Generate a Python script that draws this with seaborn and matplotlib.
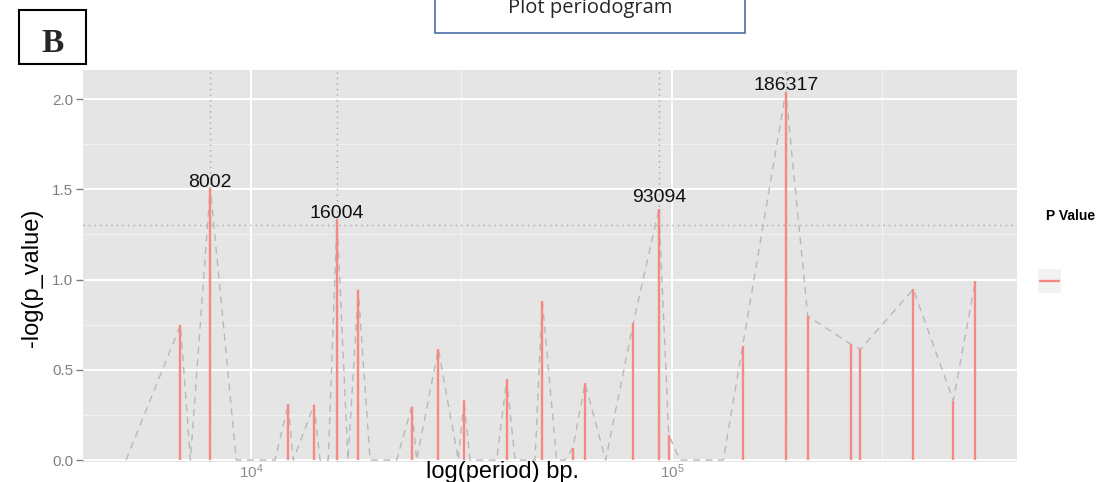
import numpy as np
import pandas as pd
import matplotlib
matplotlib.use("Agg")
import matplotlib.pyplot as plt
from matplotlib.patches import Rectangle
from matplotlib.lines import Line2D
from matplotlib.ticker import FixedLocator, NullFormatter, LogFormatterSciNotation
import seaborn as sns

# ---------------- data ----------------
period = [5050, 6800, 7180, 8002, 9230, 11400, 12260, 12600, 14110, 14590,
          15260, 16004, 17000, 17980, 19180, 22190, 24080, 24750, 27860, 31080,
          32060, 33130, 38330, 40500, 42390, 47270, 49190, 53220, 55700, 58180,
          62140, 69580, 80900, 93094, 98220, 104470, 132400, 147200, 186317, 210100,
          266200, 280200, 374300, 465800, 525400]
neglogp = [0, 0.748, 0, 1.507, 0, 0, 0.310, 0, 0.305, 0,
           0, 1.334, 0, 0.942, 0, 0, 0.296, 0, 0.615, 0,
           0.332, 0, 0, 0.447, 0, 0, 0.881, 0, 0, 0.068,
           0.425, 0, 0.757, 1.39, 0.139, 0, 0, 0.633, 2.04, 0.798,
           0.641, 0.613, 0.946, 0.329, 0.993]
peak_periods = [8002, 16004, 93094, 186317]
y_ticks = [0.0, 0.5, 1.0, 1.5, 2.0]
threshold = -np.log10(0.05)

df = pd.DataFrame({"period": period, "neglogp": neglogp})

# ---------------- style ----------------
sns.set_theme(style="darkgrid")
plt.rcParams["font.family"] = ["Liberation Sans", "DejaVu Sans"]

W, H = 1101, 482
fig = plt.figure(figsize=(W / 100, H / 100), dpi=100)
ax = fig.add_axes([83 / W, 1 - 462 / H, (1017 - 83) / W, (462 - 70) / H])
ax.set_facecolor("#E5E5E5")
for s in ax.spines.values():
    s.set_visible(False)

ax.set_xscale("log")
ax.set_xlim(3990, 659900)
ax.set_ylim(-0.011, 2.161)

ax.xaxis.set_major_locator(FixedLocator([1e4, 1e5]))
ax.xaxis.set_major_formatter(LogFormatterSciNotation())
ax.xaxis.set_minor_locator(FixedLocator([10 ** 4.5, 10 ** 5.5]))
ax.xaxis.set_minor_formatter(NullFormatter())
ax.yaxis.set_major_locator(FixedLocator(y_ticks))
ax.yaxis.set_minor_locator(FixedLocator([0.25, 0.75, 1.25, 1.75]))
ax.set_yticklabels([f"{v:.1f}" for v in y_ticks])

ax.grid(which="major", color="white", lw=1.4)
ax.grid(which="minor", color="#F2F2F2", lw=0.7)
ax.set_axisbelow(True)

ax.tick_params(axis="y", which="major", length=5, width=1, color="#7F7F7F",
               labelcolor="#7F7F7F", labelsize=11, pad=2, left=True)
ax.tick_params(axis="y", which="minor", length=0)
ax.tick_params(axis="x", which="both", length=0, labelcolor="#8C8C8C",
               labelsize=11, pad=0)

# reference lines
ax.axhline(threshold, color="#A6A6A6", lw=1.0, ls=(0, (1, 3)), zorder=1)
for p in peak_periods:
    ax.axvline(p, color="#A6A6A6", lw=1.0, ls=(0, (1, 3)), zorder=1)

# dashed connecting line
sns.lineplot(data=df, x="period", y="neglogp", ax=ax, estimator=None, sort=True,
             color="#B8B8B8", lw=1.0, zorder=2)
ax.lines[-1].set_dashes((5, 4))

# bars (stems)
ax.vlines(df["period"], 0, df["neglogp"], color="#F48A83", lw=1.7, zorder=3)

# peak labels
label_offsets = [1, 1, 5, 1]
for p, off in zip(peak_periods, label_offsets):
    v = df.loc[df["period"] == p, "neglogp"].iloc[0]
    ax.annotate(f"{p}", (p, v), xytext=(0, off), textcoords="offset points",
                ha="center", va="baseline", fontsize=14, color="#111111", zorder=4)

ax.set_xlabel("")
ax.set_ylabel("")

# axis titles
fig.text(503 / W, 1 - 461 / H, "log(period) bp.", ha="center", va="top",
         fontsize=17, color="black")
fig.text(32 / W, 1 - 278 / H, "-log(p_value)", ha="center", va="center",
         rotation=90, fontsize=17, color="black")

# legend (manual)
fig.text(1046 / W, 1 - 216 / H, "P Value", ha="left", va="center",
         fontsize=10, fontweight="bold", color="black")
fig.patches.append(Rectangle((1038 / W, 1 - 293 / H), 23 / W, 24 / H,
                             transform=fig.transFigure, facecolor="#F2F2F2",
                             edgecolor="none"))
fig.lines.append(Line2D([1040 / W, 1059 / W], [1 - 281 / H, 1 - 281 / H],
                        transform=fig.transFigure, color="#F48A83", lw=1.7))

# panel letter box
fig.patches.append(Rectangle((19 / W, 1 - 64 / H), 67 / W, 54 / H,
                             transform=fig.transFigure, facecolor="white",
                             edgecolor="black", lw=1.5))
fig.text(52.5 / W, 1 - 52 / H, "B", ha="center", va="baseline", fontsize=24,
         fontweight="bold", family=["Liberation Serif", "DejaVu Serif"])

# title box
fig.patches.append(Rectangle((435 / W, 1 - 33 / H), 310 / W, 60 / H,
                             transform=fig.transFigure, facecolor="white",
                             edgecolor="#4A6FA5", lw=1.2, clip_on=False))
fig.text(590 / W, 1 - 13 / H, "Plot periodogram", ha="center", va="baseline",
         fontsize=14.5, color="#262626", family=["Open Sans", "DejaVu Sans"])

fig.savefig("out.png", dpi=100, facecolor="white")
